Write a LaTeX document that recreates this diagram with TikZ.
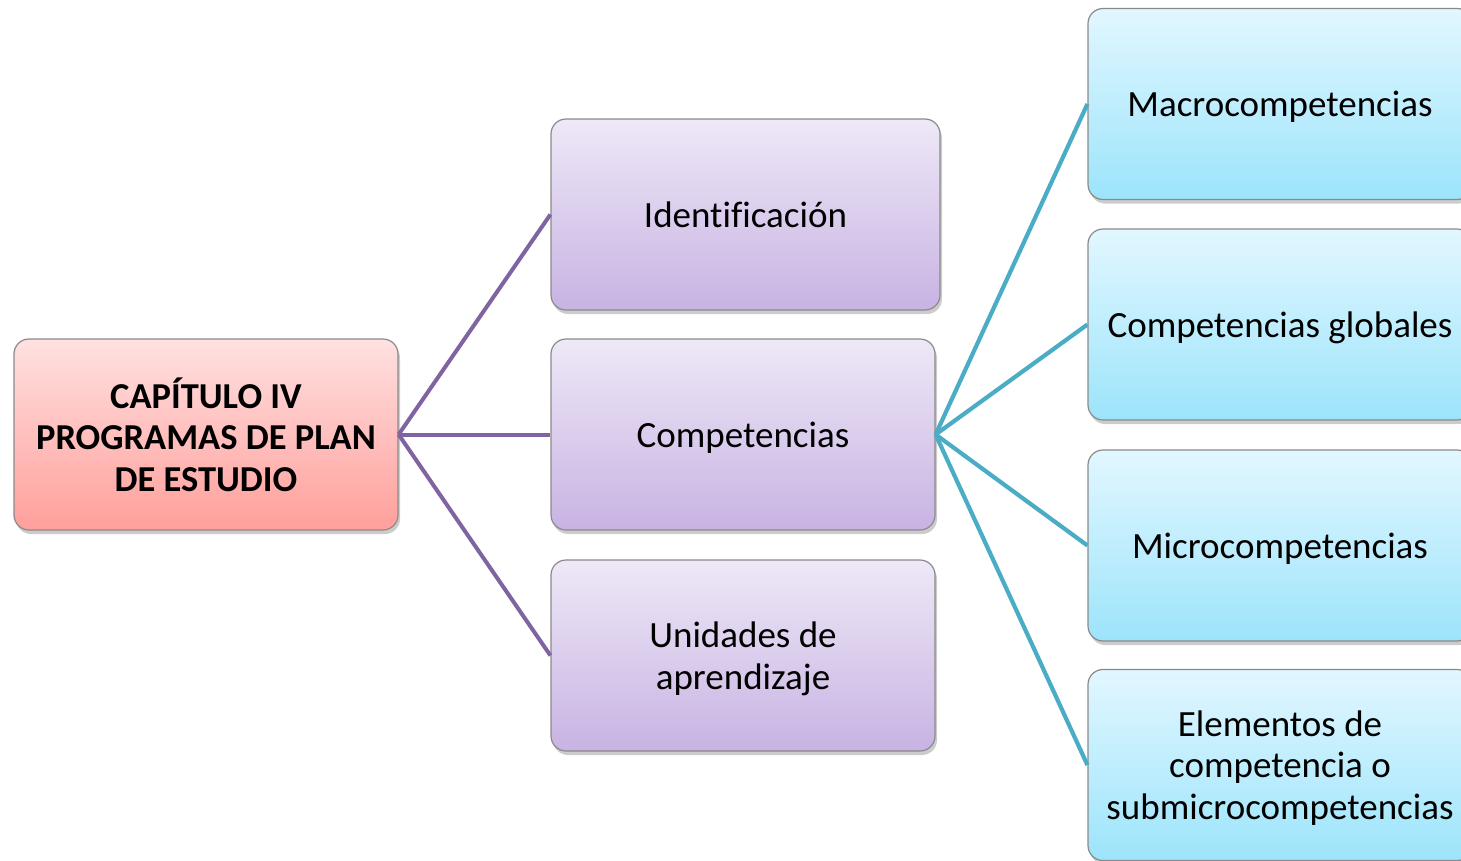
\documentclass[tikz,border=0pt]{standalone}
\usepackage{fontspec}
\setmainfont[Ligatures={NoCommon}]{Carlito}
\usetikzlibrary{shadows}
\definecolor{redtop}{HTML}{FFE1E1}
\definecolor{redbot}{HTML}{FF9F9B}
\definecolor{purtop}{HTML}{EEE8F7}
\definecolor{purbot}{HTML}{C8B3E3}
\definecolor{blutop}{HTML}{E2F7FF}
\definecolor{blubot}{HTML}{9CE4FB}
\definecolor{purline}{HTML}{8064A2}
\definecolor{bluline}{HTML}{4BACC6}
\definecolor{edgegray}{HTML}{8A8A8A}
\tikzset{
  box/.style={draw=edgegray, line width=1.2pt, rounded corners=15pt,
    minimum height=191pt, align=center, inner sep=2pt,
    font=\fontsize{37}{41.5}\selectfont, text depth=0pt,
    drop shadow={opacity=0.4, shadow xshift=2pt, shadow yshift=-4pt}},
  rootbox/.style={box, top color=redtop, bottom color=redbot, minimum width=384pt,
    font=\fontsize{36.5}{41.5}\selectfont\bfseries},
  purbox/.style={box, top color=purtop, bottom color=purbot},
  blubox/.style={box, top color=blutop, bottom color=blubot, minimum width=384pt},
  purlink/.style={draw=purline, line width=4pt},
  blulink/.style={draw=bluline, line width=4.2pt}
}
\begin{document}
\begin{tikzpicture}[x=1pt,y=-1pt]
\useasboundingbox (0,0) rectangle (1461,860);
\node[rootbox] (root) at (206,434.5) {CAPÍTULO IV\\PROGRAMAS DE PLAN\\DE ESTUDIO};
\node[purbox, minimum width=389pt] (ident) at (745.5,214.5) {Identificación};
\node[purbox, minimum width=384pt] (comp) at (743,434.5) {Competencias};
\node[purbox, minimum width=384pt] (unid) at (743,655.5) {Unidades de\\aprendizaje};
\node[blubox] (macro) at (1280,104) {Macrocompetencias};
\node[blubox] (glob) at (1280,324.5) {Competencias globales};
\node[blubox] (micro) at (1280,545.5) {Microcompetencias};
\node[blubox] (elem) at (1280,765) {Elementos de\\competencia o\\submicrocompetencias};
\draw[purlink] (root.east) -- (ident.west);
\draw[purlink] (root.east) -- (comp.west);
\draw[purlink] (root.east) -- (unid.west);
\draw[blulink] (comp.east) -- (macro.west);
\draw[blulink] (comp.east) -- (glob.west);
\draw[blulink] (comp.east) -- (micro.west);
\draw[blulink] (comp.east) -- (elem.west);
\end{tikzpicture}
\end{document}
